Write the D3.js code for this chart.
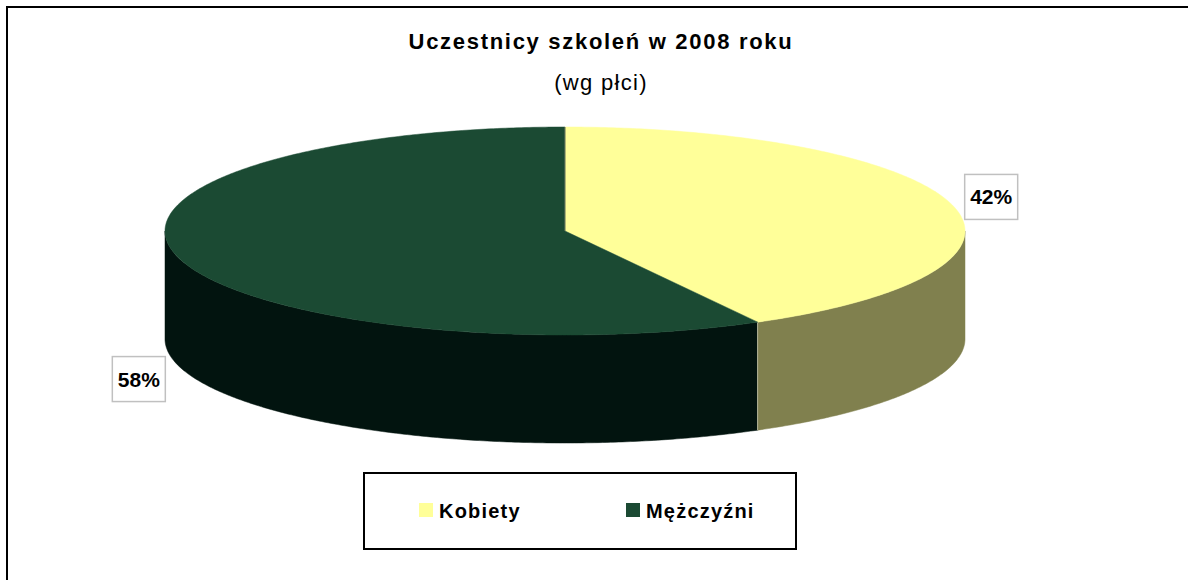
<!DOCTYPE html>
<html><head><meta charset="utf-8">
<script src="https://cdn.jsdelivr.net/npm/d3@7"></script>
<style>body{margin:0;background:#fff}svg{display:block}text{font-family:"Liberation Sans",Arial,sans-serif}</style>
</head><body>
<svg id="c" width="1188" height="580"></svg>
<script>
const categories = ["Kobiety", "Mężczyźni"];
const values = [42, 58];
const labels = ["42%", "58%"];
const topColors = ["#FFFF99", "#1B4A33"];
const sideColors = ["#80804E", "#02140F"];
const title = "Uczestnicy szkoleń w 2008 roku";
const subtitle = "(wg płci)";

const svg = d3.select("#c");
// outer frame (cut off at right and bottom)
svg.append("rect").attr("x", 7).attr("y", 7).attr("width", 1200).attr("height", 600)
  .attr("fill", "none").attr("stroke", "#000").attr("stroke-width", 2);

svg.append("text").attr("x", 601).attr("y", 49).attr("text-anchor", "middle")
  .attr("font-size", 22).attr("font-weight", "bold").attr("letter-spacing", 1.7).text(title);
svg.append("text").attr("x", 601).attr("y", 90).attr("text-anchor", "middle")
  .attr("font-size", 22).attr("letter-spacing", 1.3).text(subtitle);

const cx = 565, cy = 231, rx = 400, ry = 104, depth = 108;
const pie = d3.pie().sort(null).value(d => d)(values);
const pt = (a, dy = 0) => [cx + rx * Math.sin(a), cy - ry * Math.cos(a) + dy];
const line = d3.line();
function arcPts(a0, a1, dy) {
  const n = Math.max(2, Math.ceil(Math.abs(a1 - a0) / 0.01));
  return d3.range(n + 1).map(i => pt(a0 + (a1 - a0) * i / n, dy));
}
const g = svg.append("g");
// sides (front half only)
pie.forEach((s, i) => {
  const a0 = Math.max(s.startAngle, Math.PI / 2), a1 = Math.min(s.endAngle, 3 * Math.PI / 2);
  if (a1 <= a0) return;
  const p = arcPts(a0, a1, 0).concat(arcPts(a1, a0, depth));
  g.append("path").attr("d", line(p) + "Z").attr("fill", sideColors[i]).attr("stroke", sideColors[i]).attr("stroke-width", 0.5);
});
pie.forEach(s => {
  const a = s.endAngle;
  if (a > Math.PI / 2 && a < 3 * Math.PI / 2) {
    const [x, y] = pt(a);
    g.append("line").attr("x1", x).attr("y1", y).attr("x2", x).attr("y2", y + depth)
      .attr("stroke", "#c8c8a8").attr("stroke-width", 1);
  }
});
// tops
pie.forEach((s, i) => {
  const p = [[cx, cy]].concat(arcPts(s.startAngle, s.endAngle, 0));
  g.append("path").attr("d", line(p) + "Z").attr("fill", topColors[i]).attr("stroke", topColors[i]).attr("stroke-width", 0.5);
});
g.append("line").attr("x1", cx).attr("y1", cy).attr("x2", cx).attr("y2", cy - ry)
  .attr("stroke", "#8a8a70").attr("stroke-width", 0.8);

// labels
pie.forEach((s, i) => {
  const m = (s.startAngle + s.endAngle) / 2;
  const x = cx + (rx + 40) * Math.sin(m);
  const y = cy - (ry + 33) * Math.cos(m) + (Math.cos(m) < 0 ? depth + 6 : 0);
  const w = 53, h = 45;
  svg.append("rect").attr("x", x - w / 2).attr("y", y - h / 2).attr("width", w).attr("height", h)
    .attr("fill", "#fff").attr("stroke", "#c0c0c0").attr("stroke-width", 1.5);
  svg.append("text").attr("x", x).attr("y", y + 7.5).attr("text-anchor", "middle")
    .attr("font-size", 21).attr("font-weight", "bold").text(labels[i]);
});

// legend
const lg = svg.append("g");
lg.append("rect").attr("x", 364).attr("y", 473).attr("width", 432).attr("height", 76)
  .attr("fill", "#fff").attr("stroke", "#000").attr("stroke-width", 2);
const lx = [419, 626];
categories.forEach((c, i) => {
  lg.append("rect").attr("x", lx[i]).attr("y", 503).attr("width", 14).attr("height", 14)
    .attr("fill", topColors[i]);
  lg.append("text").attr("x", lx[i] + 20).attr("y", 518).attr("font-size", 20)
    .attr("font-weight", "bold").attr("letter-spacing", 1.2).text(c);
});
</script>
</body></html>
